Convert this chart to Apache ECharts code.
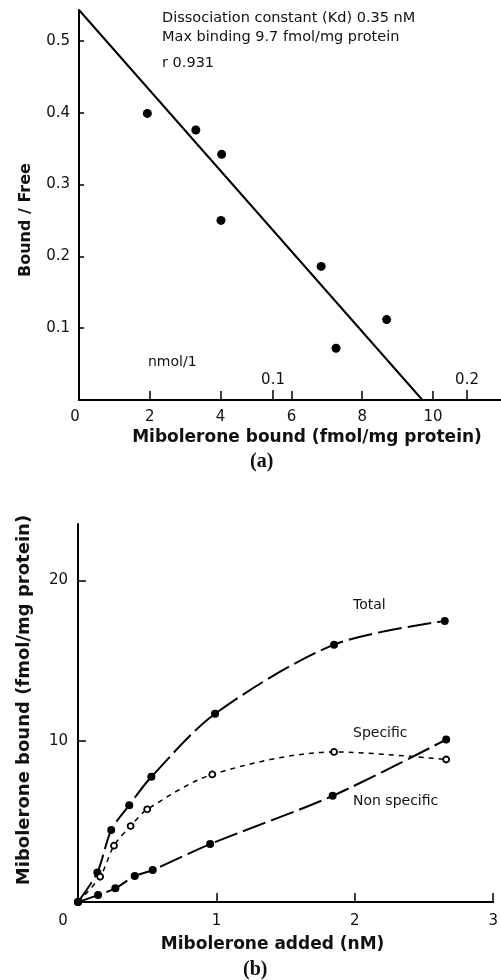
<!DOCTYPE html>
<html>
<head>
<meta charset="utf-8">
<style>
  html, body { margin: 0; padding: 0; background: #fff; }
  #chart { width: 501px; height: 980px; }
</style>
<script src="https://cdn.jsdelivr.net/npm/echarts@6/dist/echarts.min.js"></script>
</head>
<body>
<div id="chart"></div>
<script>
// (a) Scatchard plot
var scatBound = [1.93, 3.3, 4.03, 4.01, 6.84, 7.26, 8.69];
var scatRatio = [0.399, 0.376, 0.342, 0.25, 0.186, 0.072, 0.112];
var fitBound = [0, 9.7];
var fitRatio = [0.543, 0];
var ticksBound = [0, 2, 4, 6, 8, 10];
var ticksNmol = [0.1, 0.2];
var ticksRatio = [0.1, 0.2, 0.3, 0.4, 0.5];

// (b) saturation curves
var addedTotal = [0, 0.14, 0.24, 0.37, 0.53, 0.99, 1.85, 2.65];
var boundTotal = [0, 1.84, 4.47, 6.02, 7.78, 11.7, 16.0, 17.47];
var addedSpecific = [0, 0.16, 0.26, 0.38, 0.5, 0.97, 1.85, 2.66];
var boundSpecific = [0, 1.57, 3.5, 4.72, 5.76, 7.93, 9.33, 8.86];
var addedNonSpec = [0, 0.145, 0.27, 0.41, 0.54, 0.955, 1.84, 2.66];
var boundNonSpec = [0, 0.43, 0.85, 1.61, 1.99, 3.6, 6.6, 10.1];
var ticksAdded = [0, 1, 2, 3];
var ticksBoundB = [10, 20];

function zip(xs, ys) {
  return xs.map(function (x, i) { return [x, ys[i]]; });
}

var FONT = 'DejaVu Sans';
var INK = '#111';

// hide labels that are not on the interval (e.g. the axis max)
function stepLabel(step, digits, hideZero) {
  return function (v) {
    var r = Math.round(v / step);
    if (Math.abs(v - r * step) > 1e-6) return '';
    if (hideZero && r === 0) return '';
    return (r * step).toFixed(digits);
  };
}

var chart = echarts.init(document.getElementById('chart'), null, { renderer: 'canvas' });

var tickLabel = { color: INK, fontFamily: FONT, fontSize: 15 };
var axisNameStyle = { color: INK, fontFamily: FONT, fontSize: 17, fontWeight: 'bold' };
var noteFont = '14.5px "DejaVu Sans"';

var option = {
  animation: false,
  backgroundColor: '#fff',
  grid: [
    { left: 79, top: 10, width: 422, height: 390 },
    { left: 78, top: 524, width: 420, height: 378 }
  ],
  xAxis: [
    {
      gridIndex: 0, type: 'value', min: 0, max: 11.92, interval: 2,
      name: 'Mibolerone bound (fmol/mg protein)',
      nameLocation: 'middle', nameGap: 29,
      nameTextStyle: Object.assign({}, axisNameStyle, { padding: [0, 0, 0, 34] }),
      axisLine: { lineStyle: { color: '#000', width: 2 } },
      axisTick: { inside: true, length: 9, customValues: ticksBound, lineStyle: { color: '#000', width: 1.5 } },
      axisLabel: Object.assign({}, tickLabel, {
        margin: 10,
        customValues: ticksBound,
        formatter: function (v) { return v === 0 ? '{z|0}' : stepLabel(2, 0, false)(v); },
        rich: { z: { color: INK, fontFamily: FONT, fontSize: 15, padding: [0, 8, 0, 0] } }
      }),
      splitLine: { show: false }
    },
    {
      gridIndex: 0, type: 'value', position: 'bottom', min: 0, max: 0.2175, interval: 0.1,
      axisLine: { show: false },
      axisTick: { inside: true, length: 10, customValues: ticksNmol, lineStyle: { color: '#000', width: 1.5 } },
      axisLabel: Object.assign({}, tickLabel, { inside: true, margin: 12, customValues: ticksNmol, formatter: stepLabel(0.1, 1, true) }),
      splitLine: { show: false }
    },
    {
      gridIndex: 1, type: 'value', min: 0, max: 3, interval: 1,
      name: 'Mibolerone added (nM)',
      nameLocation: 'middle', nameGap: 34,
      nameTextStyle: Object.assign({}, axisNameStyle, { padding: [0, 26, 0, 0] }),
      axisLine: { lineStyle: { color: '#000', width: 2 } },
      axisTick: { inside: true, length: 9, customValues: ticksAdded, lineStyle: { color: '#000', width: 1.5 } },
      axisLabel: Object.assign({}, tickLabel, {
        margin: 12,
        customValues: ticksAdded,
        formatter: function (v) { return v === 0 ? '{z|0}' : String(v); },
        rich: { z: { color: INK, fontFamily: FONT, fontSize: 15, padding: [0, 30, 0, 0] } }
      }),
      splitLine: { show: false }
    }
  ],
  yAxis: [
    {
      gridIndex: 0, type: 'value', min: 0, max: 0.543, interval: 0.1,
      name: 'Bound / Free',
      nameLocation: 'middle', nameGap: 45, nameRotate: 90,
      nameTextStyle: Object.assign({}, axisNameStyle, { fontSize: 16, padding: [0, 30, 0, 0] }),
      axisLine: { show: true, lineStyle: { color: '#000', width: 2 } },
      axisTick: { show: true, inside: true, length: 5, customValues: ticksRatio, lineStyle: { color: '#000', width: 1.5 } },
      axisLabel: Object.assign({}, tickLabel, { margin: 9, customValues: ticksRatio, formatter: stepLabel(0.1, 1, true) }),
      splitLine: { show: false }
    },
    {
      gridIndex: 1, type: 'value', min: 0, max: 23.5, interval: 10,
      name: 'Mibolerone bound (fmol/mg protein)',
      nameLocation: 'middle', nameGap: 45, nameRotate: 90,
      nameTextStyle: Object.assign({}, axisNameStyle, { fontSize: 18, padding: [0, 0, 0, 26] }),
      axisLine: { show: true, lineStyle: { color: '#000', width: 2 } },
      axisTick: { show: true, inside: true, length: 8, customValues: ticksBoundB, lineStyle: { color: '#000', width: 1.5 } },
      axisLabel: Object.assign({}, tickLabel, { margin: 10, customValues: ticksBoundB, formatter: stepLabel(10, 0, true) }),
      splitLine: { show: false }
    }
  ],
  series: [
    {
      type: 'line', xAxisIndex: 0, yAxisIndex: 0,
      data: zip(fitBound, fitRatio), symbol: 'none',
      lineStyle: { color: '#000', width: 2 }, z: 2
    },
    {
      type: 'scatter', xAxisIndex: 0, yAxisIndex: 0,
      data: zip(scatBound, scatRatio), symbol: 'circle', symbolSize: 9,
      itemStyle: { color: '#000', opacity: 1 }, z: 3
    },
    {
      name: 'Total', type: 'line', xAxisIndex: 2, yAxisIndex: 1,
      data: zip(addedTotal, boundTotal), smooth: 0.3,
      symbol: 'circle', symbolSize: 8,
      itemStyle: { color: '#000' },
      lineStyle: { color: '#000', width: 2, type: [24, 6] }
    },
    {
      name: 'Specific', type: 'line', xAxisIndex: 2, yAxisIndex: 1,
      data: zip(addedSpecific, boundSpecific), smooth: 0.3,
      symbol: 'circle', symbolSize: 6,
      itemStyle: { color: '#fff', borderColor: '#000', borderWidth: 1.8 },
      lineStyle: { color: '#000', width: 1.5, type: [5, 5] }
    },
    {
      name: 'Non specific', type: 'line', xAxisIndex: 2, yAxisIndex: 1,
      data: zip(addedNonSpec, boundNonSpec), smooth: 0.3,
      symbol: 'circle', symbolSize: 8,
      itemStyle: { color: '#000' },
      lineStyle: { color: '#000', width: 2, type: [24, 6] }
    }
  ],
  graphic: [
    { type: 'text', left: 162, top: 11, style: { text: 'Dissociation constant (Kd) 0.35 nM', font: noteFont, fill: INK } },
    { type: 'text', left: 162, top: 30, style: { text: 'Max binding 9.7 fmol/mg protein', font: noteFont, fill: INK } },
    { type: 'text', left: 162, top: 56, style: { text: 'r 0.931', font: noteFont, fill: INK } },
    { type: 'text', left: 148, top: 355, style: { text: 'nmol/1', font: '14px "DejaVu Sans"', fill: INK } },
    { type: 'text', left: 250, top: 452, style: { text: '(a)', font: 'bold 20px "Liberation Serif"', fill: INK } },
    { type: 'text', left: 353, top: 598, style: { text: 'Total', font: '14px "DejaVu Sans"', fill: INK } },
    { type: 'text', left: 353, top: 726, style: { text: 'Specific', font: '14px "DejaVu Sans"', fill: INK } },
    { type: 'text', left: 353, top: 794, style: { text: 'Non specific', font: '14px "DejaVu Sans"', fill: INK } },
    { type: 'text', left: 243, top: 960, style: { text: '(b)', font: 'bold 20px "Liberation Serif"', fill: INK } }
  ]
};

chart.setOption(option);
</script>
</body>
</html>
